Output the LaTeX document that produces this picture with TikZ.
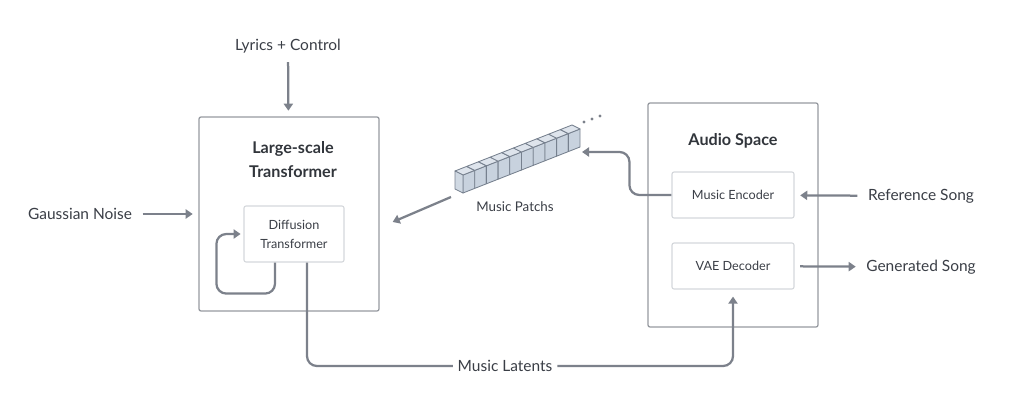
\documentclass[tikz,border=0pt]{standalone}
\usepackage{fontspec}
\setmainfont{Lato}
\usetikzlibrary{arrows.meta, positioning, calc}
\definecolor{inkgray}{RGB}{58, 62, 70}
\definecolor{wiregray}{RGB}{124, 129, 139}
\definecolor{framegray}{RGB}{150, 154, 160}
\definecolor{cellgray}{RGB}{212, 215, 219}
\definecolor{patchtop}{RGB}{222, 228, 236}
\definecolor{patchside}{RGB}{200, 210, 222}
\definecolor{patchedge}{RGB}{118, 128, 142}

\begin{document}
\begin{tikzpicture}[x=0.025cm, y=-0.025cm,
    iolabel/.style={text=inkgray, font=\fontsize{11}{13}\selectfont},
    boxtitle/.style={text=inkgray!85!black, font=\fontsize{11.5}{17}\selectfont\bfseries, align=center},
    stage/.style={rectangle, draw=framegray, line width=0.9pt, rounded corners=1.5pt, minimum width=4.5cm, minimum height=4.85cm},
    block/.style={rectangle, draw=cellgray, line width=0.8pt, rounded corners=1.5pt, minimum width=3.05cm, minimum height=1.15cm, align=center, text=inkgray, font=\fontsize{9}{13.5}\selectfont},
    flow/.style={-{Triangle[length=5pt, width=6.5pt]}, line width=1.6pt, wiregray, rounded corners=7pt},
    cubeface/.style={draw=patchedge, line width=0.6pt, line join=round}
  ]
  \useasboundingbox (0,0) rectangle (1024,407);

  \node[iolabel] (lyrics) at (288,46) {Lyrics + Control};
  \node[iolabel] (noise) at (80,214) {Gaussian Noise};
  \node[iolabel] (refsong) at (921,196) {Reference Song};
  \node[iolabel] (gensong) at (921,267) {Generated Song};

  \node[stage] (LT) at (289,214) {};
  \node[boxtitle] (LTtitle) at (293,160) {Large-scale\\Transformer};
  \node[block, minimum width=2.5cm, minimum height=1.4cm] (DT) at (294,234) {Diffusion\\Transformer};

  \node[stage, minimum width=4.25cm, minimum height=5.6cm] (AS) at (733,215) {};
  \node[boxtitle] (AStitle) at (733,141) {Audio Space};
  \node[block] (ME) at (733,195) {Music Encoder};
  \node[block] (VD) at (733,266) {VAE Decoder};

  % row of patches
  \begin{scope}[shift={(463,193)}, x={(0.2925cm,0.115cm)}, y={(-0.2cm,0.1cm)}, z={(0cm,0.45cm)}]
    \foreach \i in {0,...,9}{
      \draw[cubeface, fill=patchside] (\i,0,0) -- (\i+1,0,0) -- (\i+1,0,1) -- (\i,0,1) -- cycle;
      \draw[cubeface, fill=patchtop] (\i,0,1) -- (\i+1,0,1) -- (\i+1,1,1) -- (\i,1,1) -- cycle;
    }
    \draw[cubeface, fill=patchside!85!white] (0,0,0) -- (0,1,0) -- (0,1,1) -- (0,0,1) -- cycle;
  \end{scope}
  \foreach \p in {(584,122), (592,119), (600,116)}
    \fill[wiregray] \p circle (1.7);
  \node[iolabel, font=\fontsize{9.5}{12}\selectfont] (patchname) at (515,207) {Music Patchs};
  \coordinate (patchin) at (582,152);
  \coordinate (patchout) at (451,197);

  \node[iolabel] (latents) at (505,366) {Music Latents};

  \draw[flow, shorten <=3pt, shorten >=4pt] (lyrics) -- (LT);
  \draw[flow, shorten <=4pt, shorten >=4pt] (noise) -- (LT);
  \draw[flow, shorten >=2pt] ($(DT.south)+(-19,0)$) -- ++(0,31) -| ($(DT.west)+(-27,0)$) -- (DT.west);
  \draw[flow, -] ($(DT.south)+(13,0)$) |- (latents.west);
  \draw[flow, shorten >=5pt] (latents.east) -| (VD.south);
  \draw[flow] (ME.west) -- ++(-42,0) |- (patchin);
  \draw[flow] (patchout) -- ($(LT.east)+(13,8)$);
  \draw[flow, shorten <=4pt, shorten >=4pt] (refsong) -- (ME);
  \draw[flow, shorten <=4pt, shorten >=4pt] (VD) -- (gensong);
\end{tikzpicture}
\end{document}
